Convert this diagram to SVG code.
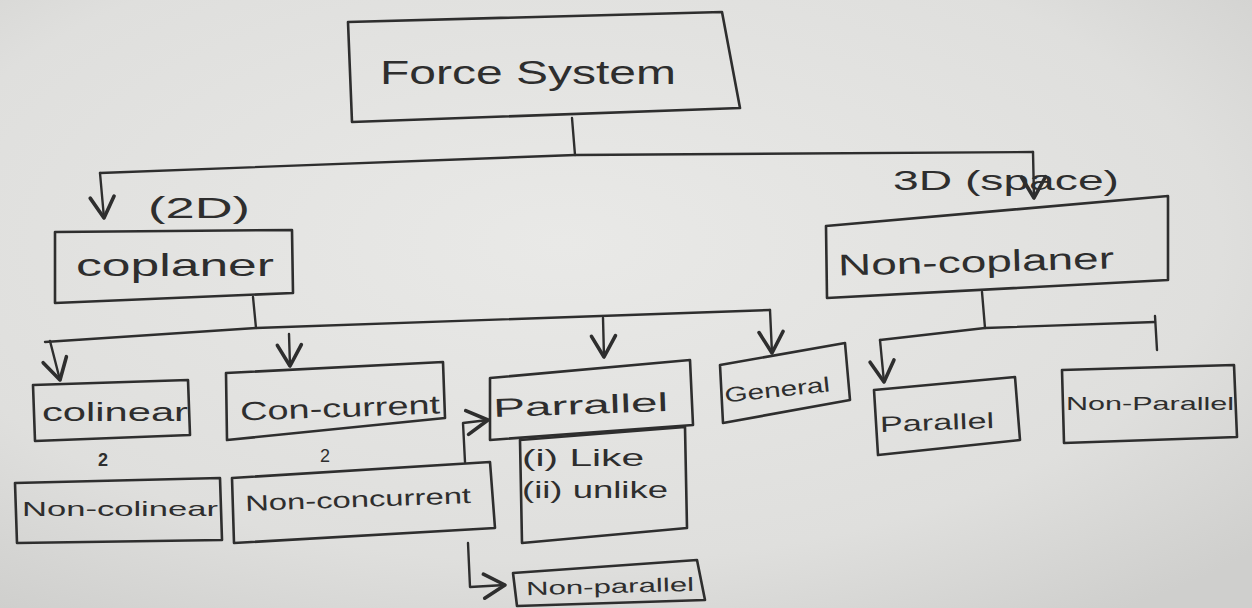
<svg xmlns="http://www.w3.org/2000/svg" width="1252" height="608" viewBox="0 0 1252 608">
<defs>
<radialGradient id="paper" cx="0.45" cy="0.4" r="0.75">
<stop offset="0" stop-color="#e9e9e7"/>
<stop offset="0.7" stop-color="#dfdfdd"/>
<stop offset="1" stop-color="#cfcfcd"/>
</radialGradient>
<marker id="v" markerUnits="userSpaceOnUse" markerWidth="30" markerHeight="30" refX="0" refY="0" viewBox="-16 -10 20 20" orient="auto" overflow="visible">
<path d="M-14,-8 L0,0 L-14,8" fill="none" stroke="#2e2e2e" stroke-width="2.4" stroke-linecap="round" stroke-linejoin="round"/>
</marker>
<style>
.box{fill:none;stroke:#2e2e2e;stroke-width:2.6;stroke-linejoin:round}
.ln{fill:none;stroke:#2e2e2e;stroke-width:2.4;stroke-linecap:round;stroke-linejoin:round}
.arr{marker-end:url(#v)}
.t{font-family:"Liberation Sans","DejaVu Sans",sans-serif;fill:#2e2e2e}
</style>
</defs>
<rect width="1252" height="608" fill="url(#paper)"/>

<g id="connectors">
<path class="ln" d="M572,118 L575,155"/>
<path class="ln" d="M100,173 L575,155 L1033,152"/>
<path class="ln arr" d="M1033,152 L1034,198"/>
<path class="ln arr" d="M100,173 L104,218"/>
<path class="ln" d="M253,297 L256,328"/>
<path class="ln" d="M45,342 L256,328 L770,310"/>
<path class="ln arr" d="M50,341 L60,380"/>
<path class="ln arr" d="M289,334 L290,366"/>
<path class="ln arr" d="M603,318 L604,357"/>
<path class="ln arr" d="M770,310 L772,353"/>
<path class="ln" d="M982,292 L985,328"/>
<path class="ln" d="M880,340 L985,328 L1155,322"/>
<path class="ln" d="M1155,316 L1157,350"/>
<path class="ln arr" d="M880,340 L884,382"/>
<path class="ln arr" d="M465,462 L463,423 L488,420"/>
<path class="ln arr" d="M468,543 L470,587 L505,585"/>
</g>

<g id="force-system">
<polygon class="box" points="348,22 722,12 740,108 352,122"/>
<text class="t" x="380" y="84" font-size="34" textLength="296" lengthAdjust="spacingAndGlyphs">Force System</text>
</g>

<g id="coplaner">
<text class="t" x="148" y="218" font-size="30" textLength="102" lengthAdjust="spacingAndGlyphs">(2D)</text>
<polygon class="box" points="55,232 292,230 293,293 55,303"/>
<text class="t" x="76" y="276" font-size="32" textLength="198" lengthAdjust="spacingAndGlyphs">coplaner</text>
</g>

<g id="non-coplaner">
<text class="t" x="893" y="190" font-size="28" textLength="226" lengthAdjust="spacingAndGlyphs">3D (space)</text>
<polygon class="box" points="826,226 1168,196 1168,280 827,298"/>
<text class="t" x="838" y="272" font-size="30" textLength="276" lengthAdjust="spacingAndGlyphs" transform="rotate(-1.5 976 262)">Non-coplaner</text>
</g>

<g id="colinear">
<polygon class="box" points="33,385 188,380 190,435 35,441"/>
<text class="t" x="42" y="421" font-size="26" textLength="146" lengthAdjust="spacingAndGlyphs">colinear</text>
<text class="t" x="98" y="466" font-size="18" font-weight="bold">2</text>
</g>

<g id="con-current">
<polygon class="box" points="226,373 443,362 445,418 227,440"/>
<text class="t" x="240" y="417" font-size="26" textLength="200" lengthAdjust="spacingAndGlyphs" transform="rotate(-2 340 405)">Con-current</text>
<text class="t" x="320" y="462" font-size="18">2</text>
</g>

<g id="parrallel">
<polygon class="box" points="490,378 690,360 693,425 490,440"/>
<text class="t" x="493" y="414" font-size="26" textLength="175" lengthAdjust="spacingAndGlyphs" transform="rotate(-2 580 402)">Parrallel</text>
<polygon class="box" points="520,440 685,427 687,528 522,543"/>
<text class="t" x="522" y="466" font-size="24" textLength="122" lengthAdjust="spacingAndGlyphs">(i) Like</text>
<text class="t" x="522" y="498" font-size="24" textLength="146" lengthAdjust="spacingAndGlyphs">(ii) unlike</text>
</g>

<g id="general">
<polygon class="box" points="720,365 845,343 850,400 723,423"/>
<text class="t" x="724" y="397" font-size="21" textLength="106" lengthAdjust="spacingAndGlyphs" transform="rotate(-6 776 388)">General</text>
</g>

<g id="non-colinear">
<polygon class="box" points="15,483 220,478 222,540 17,543"/>
<text class="t" x="22" y="516" font-size="21" textLength="196" lengthAdjust="spacingAndGlyphs">Non-colinear</text>
</g>

<g id="non-concurrent">
<polygon class="box" points="232,478 490,462 495,528 234,543"/>
<text class="t" x="245" y="507" font-size="22" textLength="226" lengthAdjust="spacingAndGlyphs" transform="rotate(-2 358 498)">Non-concurrent</text>
</g>

<g id="non-parallel-coplanar">
<polygon class="box" points="513,573 697,560 705,600 517,606"/>
<text class="t" x="526" y="593" font-size="19" textLength="168" lengthAdjust="spacingAndGlyphs" transform="rotate(-1.5 610 586)">Non-parallel</text>
</g>

<g id="parallel-space">
<polygon class="box" points="874,390 1015,377 1020,440 878,455"/>
<text class="t" x="880" y="430" font-size="22" textLength="114" lengthAdjust="spacingAndGlyphs" transform="rotate(-2 936 422)">Parallel</text>
</g>

<g id="non-parallel-space">
<polygon class="box" points="1062,370 1234,365 1237,437 1064,443"/>
<text class="t" x="1066" y="410" font-size="19" textLength="168" lengthAdjust="spacingAndGlyphs">Non-Parallel</text>
</g>
</svg>
